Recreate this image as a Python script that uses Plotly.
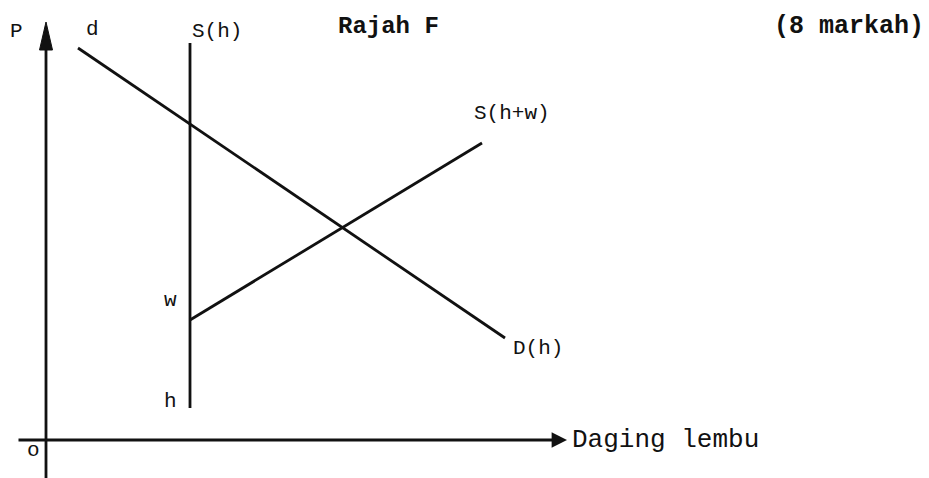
import plotly.graph_objects as go

# Diagram values, measured from the origin "o" (x to the right, P upward)
DEMAND_X = [32, 459]          # d ... D(h)
DEMAND_Y = [392, 102]
SUPPLY_H_X = [144, 144]       # S(h), vertical
SUPPLY_H_Y = [397, 32]
SUPPLY_HW_X = [144, 436]      # S(h+w), starts at w
SUPPLY_HW_Y = [120, 297]

AXIS_X_START = -29
AXIS_X_END = 521
AXIS_Y_START = -46
AXIS_Y_END = 418

LABELS = [
    ("P", -30, 409),
    ("d", 46, 411),
    ("S(h)", 171, 409),
    ("S(h+w)", 466, 327),
    ("w", 124, 140),
    ("h", 124, 39),
    ("D(h)", 492, 92),
    ("o", -13, -10),
]

FONT = "Liberation Mono, Courier New, monospace"
INK = "#111111"

fig = go.Figure()

for xs, ys in [(DEMAND_X, DEMAND_Y), (SUPPLY_H_X, SUPPLY_H_Y), (SUPPLY_HW_X, SUPPLY_HW_Y)]:
    fig.add_trace(go.Scatter(x=xs, y=ys, mode="lines",
                             line=dict(color=INK, width=2.8),
                             hoverinfo="skip", showlegend=False))

# P axis: a line plus a tall filled arrowhead
head_len, head_half = 28, 6.5
fig.add_trace(go.Scatter(x=[0, 0], y=[AXIS_Y_START, AXIS_Y_END - head_len + 2],
                         mode="lines", line=dict(color=INK, width=2.8),
                         hoverinfo="skip", showlegend=False))
fig.add_trace(go.Scatter(x=[-head_half, head_half, 0, -head_half],
                         y=[AXIS_Y_END - head_len, AXIS_Y_END - head_len, AXIS_Y_END,
                            AXIS_Y_END - head_len],
                         mode="lines", fill="toself", fillcolor=INK,
                         line=dict(color=INK, width=1),
                         hoverinfo="skip", showlegend=False))

# quantity axis
fig.add_annotation(x=AXIS_X_END, y=0, ax=AXIS_X_START, ay=0, xref="x", yref="y",
                   axref="x", ayref="y", showarrow=True, arrowhead=2,
                   arrowsize=1.1, arrowwidth=2.8, arrowcolor=INK, text="")

for text, lx, ly in LABELS:
    fig.add_annotation(x=lx, y=ly, text=text, showarrow=False,
                       font=dict(family=FONT, size=21, color=INK))

fig.add_annotation(x=AXIS_X_END + 3, y=0, text="Daging lembu", showarrow=False,
                   xanchor="left", font=dict(family=FONT, size=26, color=INK))
fig.add_annotation(x=342, y=414, text="<b>Rajah F</b>", showarrow=False,
                   font=dict(family=FONT, size=24, color=INK))
fig.add_annotation(x=803, y=414, text="<b>(8 markah)</b>", showarrow=False,
                   font=dict(family=FONT, size=25, color=INK))

fig.update_xaxes(range=[-38, 891], visible=False)
fig.update_yaxes(range=[-46, 432], visible=False)
fig.update_layout(width=929, height=478, margin=dict(l=0, r=0, t=0, b=0),
                  plot_bgcolor="white", paper_bgcolor="white")

fig.write_html("out.html")
